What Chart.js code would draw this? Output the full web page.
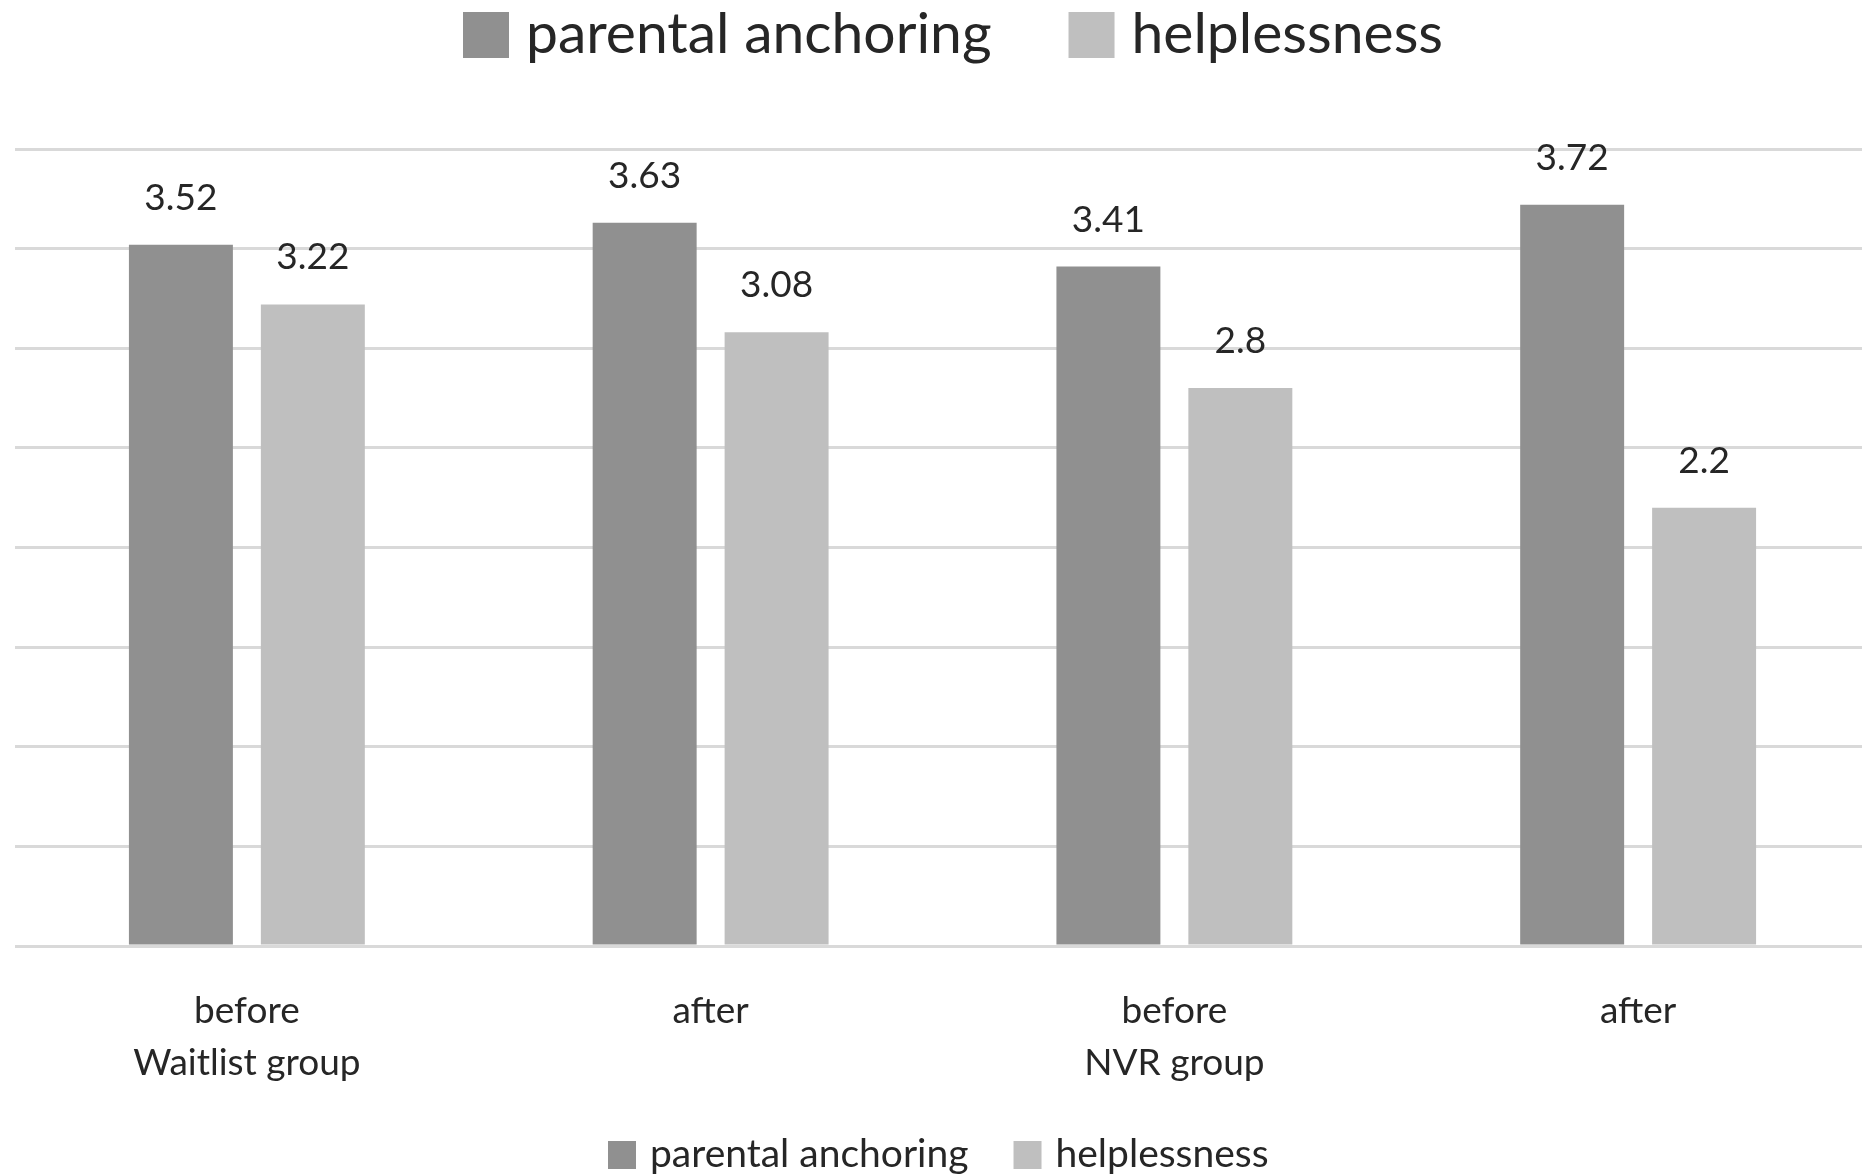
<!DOCTYPE html>
<html>
<head>
<meta charset="utf-8">
<script src="https://cdn.jsdelivr.net/npm/chart.js@4.4.1/dist/chart.umd.min.js"></script>
<style>
  html, body { margin: 0; padding: 0; background: #ffffff; overflow: hidden; }
  canvas { display: block; }
</style>
</head>
<body>
<canvas id="chart" width="1862" height="1175"></canvas>
<script>
// Group / time point labels along the x axis
const categories = [["before", "Waitlist group"], "after", ["before", "NVR group"], "after"];

// Series
const seriesNames = ["parental anchoring", "helplessness"];
const parentalAnchoring = [3.52, 3.63, 3.41, 3.72];
const helplessness = [3.22, 3.08, 2.8, 2.2];

// Value axis (hidden tick labels, gridlines every half point)
const yMin = 0;
const yMax = 4;
const yStep = 0.5;

const seriesColors = ["#909090", "#bfbfbf"];
const textColor = "#262626";
const fontFamily = "Lato, 'Open Sans', sans-serif";

// Value printed above each bar
const valueLabels = {
  id: "valueLabels",
  afterDatasetsDraw(chart) {
    const ctx = chart.ctx;
    ctx.save();
    ctx.font = "37px " + fontFamily;
    ctx.fillStyle = textColor;
    ctx.textAlign = "center";
    ctx.textBaseline = "alphabetic";
    chart.data.datasets.forEach((ds, i) => {
      const meta = chart.getDatasetMeta(i);
      meta.data.forEach((bar, j) => {
        ctx.fillText(String(ds.data[j]), bar.x, bar.y - 35);
      });
    });
    ctx.restore();
  }
};

// The category band runs a little past the right edge of the canvas
const widenCategoryBand = {
  id: "widenCategoryBand",
  afterLayout(chart, args, opts) {
    const x = chart.scales.x;
    x.right += opts.extra;
    x.width += opts.extra;
    x.configure();
  }
};

// Two legends: a large one above the plot and a small one at the foot
const pairedLegends = {
  id: "pairedLegends",
  afterDraw(chart, args, opts) {
    const ctx = chart.ctx;
    opts.rows.forEach(row => {
      ctx.save();
      ctx.font = row.fontSize + "px " + fontFamily;
      ctx.textBaseline = "alphabetic";
      ctx.textAlign = "left";
      let x = row.x;
      chart.data.datasets.forEach(ds => {
        ctx.fillStyle = ds.backgroundColor;
        ctx.fillRect(x, row.boxTop, row.box, row.box);
        x += row.box + row.gap;
        ctx.fillStyle = textColor;
        ctx.fillText(ds.label, x, row.baseline);
        x += ctx.measureText(ds.label).width + row.itemGap;
      });
      ctx.restore();
    });
  }
};

new Chart(document.getElementById("chart"), {
  type: "bar",
  data: {
    labels: categories,
    datasets: [
      { label: seriesNames[0], data: parentalAnchoring, backgroundColor: seriesColors[0] },
      { label: seriesNames[1], data: helplessness, backgroundColor: seriesColors[1] }
    ]
  },
  plugins: [widenCategoryBand, valueLabels, pairedLegends],
  options: {
    responsive: false,
    animation: false,
    devicePixelRatio: 1,
    categoryPercentage: 0.569,
    barPercentage: 0.788,
    layout: { padding: { top: 149, left: 15, right: 0, bottom: 0 } },
    plugins: {
      legend: { display: false },
      tooltip: { enabled: false },
      widenCategoryBand: { extra: 8 },
      pairedLegends: {
        rows: [
          { x: 463, boxTop: 12, box: 46, gap: 17, itemGap: 77, fontSize: 57, baseline: 53 },
          { x: 608, boxTop: 1141, box: 28, gap: 14, itemGap: 45, fontSize: 39, baseline: 1167 }
        ]
      }
    },
    scales: {
      x: {
        grid: { display: false, drawTicks: false },
        border: { display: false },
        ticks: {
          color: textColor,
          font: { family: fontFamily, size: 37, lineHeight: 1.4 },
          padding: 39,
          maxRotation: 0,
          autoSkip: false
        },
        afterFit(scale) { scale.height = 229; }
      },
      y: {
        min: yMin,
        max: yMax,
        ticks: { display: false, stepSize: yStep },
        grid: { color: "#d9d9d9", lineWidth: 3, drawTicks: false },
        border: { display: false }
      }
    }
  }
});
</script>
</body>
</html>
